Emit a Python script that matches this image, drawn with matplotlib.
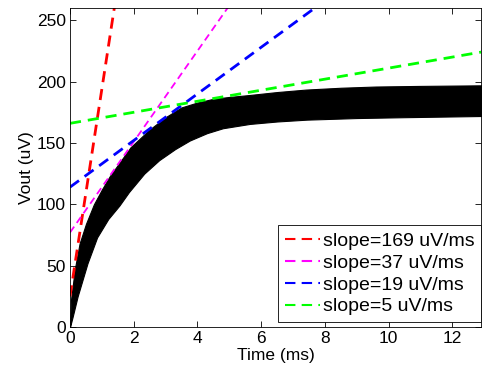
import numpy as np
import matplotlib
matplotlib.use('Agg')
from matplotlib import pyplot as plt

plt.rcParams['font.family'] = ['Liberation Sans', 'DejaVu Sans']

# envelope of the noisy Vout trace
t_up = [0, 0.03, 0.15, 0.3, 0.5, 0.75, 1.0, 1.25, 1.5, 1.9, 2.5, 3.0, 3.5, 4.0, 4.5, 5.0,
        5.6, 6.5, 7.4, 8.5, 9.6, 11.0, 13.0]
v_up = [0, 22, 47, 68, 84, 100, 112, 123, 132, 146.5, 161, 171, 179, 183, 186, 187.5,
        189, 191.5, 193.5, 195, 196, 196.5, 197]
t_lo = [0, 0.08, 0.24, 0.55, 0.85, 1.2, 1.55, 1.85, 2.33, 2.8, 3.3, 3.76, 4.3, 4.8, 5.64,
        6.5, 7.43, 9.0, 10.5, 13.0]
v_lo = [0, 8, 25, 52, 73, 88, 99, 110, 125, 136, 145, 152, 158, 162, 165.5,
        167.5, 169, 170.3, 171, 172]

# tangent lines: drawn slope, intercept, label
slopes = [169, 37, 19, 4.5]
intercepts = [25, 77, 114, 166]
labels = ['slope=169 uV/ms', 'slope=37 uV/ms', 'slope=19 uV/ms', 'slope=5 uV/ms']
colors = ['#ff0000', '#ff00ff', '#0000ff', '#00ff00']
widths = [2.0, 1.3, 2.0, 2.0]

fig = plt.figure(figsize=(4.82, 3.75), dpi=100)
ax = fig.add_axes([70/482, 48/375, 411/482, 319/375])

t_all = np.union1d(t_up, t_lo)
ax.fill_between(t_all, np.interp(t_all, t_lo, v_lo), np.interp(t_all, t_up, v_up),
                color='black', lw=0.8, edgecolor='black')

tt = np.array([0, 13.0])
for s, b, lab, c, w in zip(slopes, intercepts, labels, colors, widths):
    ax.plot(tt, b + s * tt, '--', color=c, lw=w, dashes=(4, 2.5), label=lab)

ax.set_xlim(0, 12.9)
ax.set_ylim(0, 260)
ax.set_xticks([0, 2, 4, 6, 8, 10, 12])
ax.set_yticks([0, 50, 100, 150, 200, 250])
ax.tick_params(direction='in', top=True, right=True, labelsize=12.5, length=4, width=0.6, pad=3)
for sp in ax.spines.values():
    sp.set_linewidth(0.6)
ax.set_xlabel('Time (ms)', fontsize=12.5, labelpad=1)
ax.set_ylabel('Vout (uV)', fontsize=12.5, labelpad=2)

leg = ax.legend(loc='lower right', fontsize=14, handlelength=1.8, handletextpad=0.12,
                borderaxespad=0.0, borderpad=0.35, labelspacing=0.22,
                fancybox=False, framealpha=1, edgecolor='black',
                bbox_to_anchor=(1.0, 0.015))
leg.get_frame().set_linewidth(0.6)
for ln in leg.get_lines():
    ln.set_linewidth(1.5)
    ln.set_dashes((5, 3))

fig.savefig('out.png', dpi=100)
